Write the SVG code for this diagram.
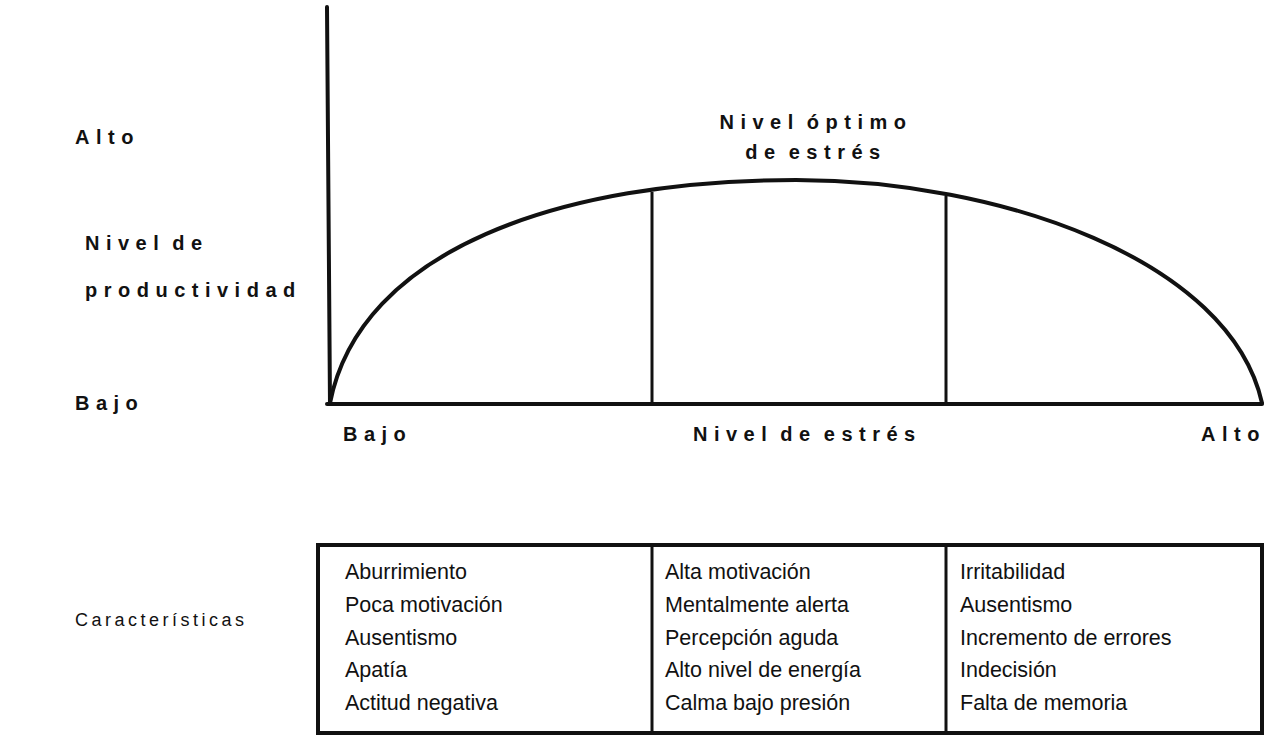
<svg xmlns="http://www.w3.org/2000/svg" width="1267" height="736" viewBox="0 0 1267 736">
<style>
.lbl{font-family:"Liberation Sans",Arial,sans-serif;font-weight:bold;font-size:20px;letter-spacing:6.5px;word-spacing:-5px;fill:#111}
.lblr{font-family:"Liberation Sans",Arial,sans-serif;font-size:18px;letter-spacing:3.5px;fill:#111}
.cell{font-family:"Liberation Sans",Arial,sans-serif;font-size:21.5px;fill:#111}
.ax{stroke:#111;stroke-width:4;fill:none;stroke-linecap:round}
.div{stroke:#111;stroke-width:3;fill:none}
.box{stroke:#111;stroke-width:4;fill:none}
</style>
<rect width="1267" height="736" fill="#fff"/>
<g id="connectors">
<line class="ax" x1="327" y1="7" x2="330" y2="404"/>
<line class="ax" x1="327" y1="404" x2="1262" y2="404"/>
<path class="ax" d="M330,403 C360,250 560,180 796,180 C1000,180 1230,260 1262,403"/>
<line class="div" x1="652" y1="192" x2="652" y2="404"/>
<line class="div" x1="946" y1="196" x2="946" y2="404"/>
</g>
<g id="y-labels">
<text class="lbl" x="75" y="144">Alto</text>
<text class="lbl" x="85" y="250">Nivel de</text>
<text class="lbl" x="85" y="297">productividad</text>
<text class="lbl" x="75" y="410">Bajo</text>
</g>
<g id="peak-label">
<text class="lbl" x="816" y="129" text-anchor="middle">Nivel óptimo</text>
<text class="lbl" x="816" y="159" text-anchor="middle">de estrés</text>
</g>
<g id="x-labels">
<text class="lbl" x="343" y="441">Bajo</text>
<text class="lbl" x="693" y="441">Nivel de estrés</text>
<text class="lbl" x="1201" y="441">Alto</text>
</g>
<text class="lblr" x="75" y="626">Características</text>
<g id="table">
<rect class="box" x="318" y="545" width="944" height="188"/>
<line class="div" x1="652" y1="545" x2="652" y2="733"/>
<line class="div" x1="946" y1="545" x2="946" y2="733"/>
</g>
<g id="col-bajo">
<text class="cell" x="345" y="579">Aburrimiento</text>
<text class="cell" x="345" y="612">Poca motivación</text>
<text class="cell" x="345" y="645">Ausentismo</text>
<text class="cell" x="345" y="677">Apatía</text>
<text class="cell" x="345" y="710">Actitud negativa</text>
</g>
<g id="col-optimo">
<text class="cell" x="665" y="579">Alta motivación</text>
<text class="cell" x="665" y="612">Mentalmente alerta</text>
<text class="cell" x="665" y="645">Percepción aguda</text>
<text class="cell" x="665" y="677">Alto nivel de energía</text>
<text class="cell" x="665" y="710">Calma bajo presión</text>
</g>
<g id="col-alto">
<text class="cell" x="960" y="579">Irritabilidad</text>
<text class="cell" x="960" y="612">Ausentismo</text>
<text class="cell" x="960" y="645">Incremento de errores</text>
<text class="cell" x="960" y="677">Indecisión</text>
<text class="cell" x="960" y="710">Falta de memoria</text>
</g>
</svg>
